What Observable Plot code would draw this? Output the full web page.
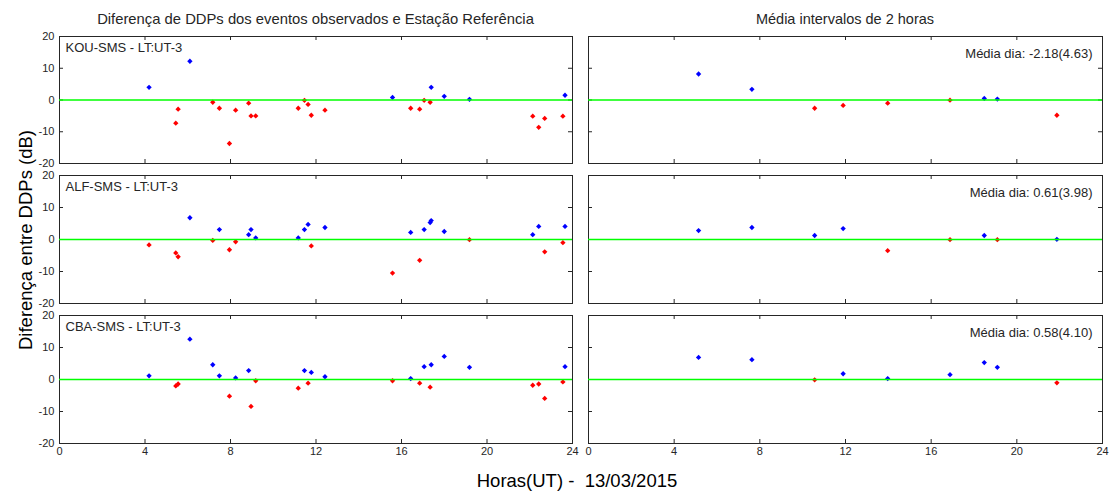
<!DOCTYPE html>
<html><head><meta charset="utf-8">
<script src="https://cdn.jsdelivr.net/npm/d3@7"></script>
<script src="https://cdn.jsdelivr.net/npm/@observablehq/plot@0.6"></script>
<style>
body{margin:0;background:#fff;}
#chart{position:relative;width:1109px;height:492px;background:#fff;font-family:"Liberation Sans",Arial,sans-serif;color:#262626;overflow:hidden;}
.t{position:absolute;white-space:pre;transform:translate(-50%,-50%);}
.p{position:absolute;}
</style></head><body><div id="chart"></div>
<script>
// ---- data ----
const xTicks = [0, 4, 8, 12, 16, 20, 24];
const yTicks = [-20, -10, 0, 10, 20];
const stationLabels = ["KOU-SMS - LT:UT-3", "ALF-SMS - LT:UT-3", "CBA-SMS - LT:UT-3"];
const dayMeanLabels = ["Média dia: -2.18(4.63)", "Média dia: 0.61(3.98)", "Média dia: 0.58(4.10)"];
const eventHours = [4.19, 5.44, 5.55, 6.10, 7.17, 7.48, 7.95, 8.24, 8.85, 8.96, 9.18, 11.17, 11.46, 11.63, 11.78, 12.42, 15.58, 16.43, 16.85, 17.06, 17.34, 17.39, 18.00, 19.18, 22.14, 22.42, 22.70, 23.55, 23.65];
const kouEvents = [4.0, -7.3, -2.9, 12.2, -0.7, -2.6, -13.7, -3.2, -1.0, -5.0, -5.0, -2.6, -0.1, -1.4, -4.8, -3.2, 0.8, -2.6, -2.9, -0.1, -0.7, 4.0, 1.15, 0.2, -5.1, -8.6, -5.8, -5.1, 1.5];
const alfEvents = [-1.7, -4.2, -5.4, 6.8, -0.3, 3.1, -3.2, -0.7, 1.5, 3.1, 0.5, 0.5, 3.1, 4.7, -2.0, 3.75, -10.5, 2.2, -6.5, 3.1, 5.3, 5.9, 2.5, -0.05, 1.5, 4.1, -3.85, -1.0, 4.1];
const cbaEvents = [1.15, -2.0, -1.4, 12.6, 4.6, 1.15, -5.2, 0.5, 2.8, -8.4, -0.4, -2.7, 2.8, -1.15, 2.2, 0.85, -0.4, 0.3, -1.15, 4.0, -2.4, 4.6, 7.2, 3.8, -1.8, -1.4, -5.9, -0.75, 4.0];
const meanHours = [5.14, 7.63, 10.56, 11.89, 13.97, 16.88, 18.48, 19.09, 21.87];
const kouMeans = [8.2, 3.35, -2.6, -1.7, -1.0, -0.05, 0.5, 0.3, -4.8];
const alfMeans = [2.8, 3.75, 1.25, 3.4, -3.5, -0.05, 1.25, -0.05, 0.05];
const cbaMeans = [6.9, 6.2, -0.1, 1.8, 0.3, 1.5, 5.3, 3.8, -1.05];
const titles = ["Diferença de DDPs dos eventos observados e Estação Referência", "Média intervalos de 2 horas"];
const yLabel = "Diferença entre DDPs (dB)";
const xLabel = "Horas(UT) -  13/03/2015";

// ---- layout ----
const root = document.getElementById("chart");
const cols = [{x0: 59, w: 513}, {x0: 588, w: 514}];
const rows = [{y0: 36, h: 127}, {y0: 175, h: 128}, {y0: 315, h: 128}];
const ink = "#262626";

function panel(ci, ri, hours, vals, cornerText) {
  const c = cols[ci], r = rows[ri];
  const showX = ri === 2, showY = ci === 0;
  const mL = showY ? c.x0 : 8, mR = 6, mT = 6, mB = showX ? 24 : 6;
  const data = hours.map((h, i) => ({h, v: vals[i]}));
  const marks = [
    Plot.frame({stroke: ink}),
    Plot.tickX(xTicks, {x: d => d, insetTop: r.h - 4, stroke: ink}),
    Plot.tickX(xTicks, {x: d => d, insetBottom: r.h - 4, stroke: ink}),
    Plot.tickY(yTicks, {y: d => d, insetRight: c.w - 4, stroke: ink}),
    Plot.tickY(yTicks, {y: d => d, insetLeft: c.w - 4, stroke: ink}),
    Plot.dot(data, {x: "h", y: "v", fill: d => d.v >= 0 ? "pos" : "neg", symbol: "diamond2", r: 2.4}),
    Plot.ruleY([0], {stroke: "#00ff00", strokeWidth: 1.3})
  ];
  if (ci === 0) {
    marks.push(Plot.text([cornerText], {text: d => d, frameAnchor: "top-left", textAnchor: "start", lineAnchor: "middle", dx: 6, dy: 11, fontSize: 13, fill: ink}));
  } else {
    marks.push(Plot.text([cornerText], {text: d => d, frameAnchor: "top-right", textAnchor: "end", lineAnchor: "middle", dx: -10, dy: 17, fontSize: 13, fill: ink}));
  }
  if (showX) marks.push(Plot.axisX(xTicks, {anchor: "bottom", tickSize: 0, tickPadding: 4, tickFormat: d => String(d), label: null, fill: ink, fontSize: 11}));
  if (showY) marks.push(Plot.axisY(yTicks, {anchor: "left", tickSize: 0, tickPadding: 5, tickFormat: d => String(d), label: null, fill: ink, fontSize: 11}));
  const svg = Plot.plot({
    width: mL + c.w + mR, height: mT + r.h + mB,
    marginLeft: mL, marginRight: mR, marginTop: mT, marginBottom: mB,
    style: {background: "transparent", overflow: "visible", fontFamily: '"Liberation Sans", Arial, sans-serif', fontSize: "11px", color: ink},
    x: {domain: [0, 24], ...(showX ? {} : {axis: null})},
    y: {domain: [-20, 20], ...(showY ? {} : {axis: null})},
    color: {domain: ["pos", "neg"], range: ["#0000ff", "#ff0000"]},
    marks
  });
  const wrap = document.createElement("div");
  wrap.className = "p";
  wrap.style.left = (c.x0 - mL) + "px";
  wrap.style.top = (r.y0 - mT) + "px";
  wrap.appendChild(svg);
  root.appendChild(wrap);
}

const eventSets = [kouEvents, alfEvents, cbaEvents];
const meanSets = [kouMeans, alfMeans, cbaMeans];
for (let i = 0; i < 3; i++) {
  panel(0, i, eventHours, eventSets[i], stationLabels[i]);
  panel(1, i, meanHours, meanSets[i], dayMeanLabels[i]);
}

function addText(txt, x, y, css) {
  const d = document.createElement("div");
  d.className = "t";
  d.textContent = txt;
  d.style.left = x + "px";
  d.style.top = y + "px";
  Object.assign(d.style, css || {});
  root.appendChild(d);
  return d;
}
addText(titles[0], (cols[0].x0 + cols[0].x0 + cols[0].w) / 2, 19, {fontSize: "14.8px"});
addText(titles[1], (cols[1].x0 + cols[1].x0 + cols[1].w) / 2, 19, {fontSize: "14.5px"});
addText(yLabel, 26, 240, {fontSize: "18.5px", color: "#000", transform: "translate(-50%,-50%) rotate(-90deg)"});
addText(xLabel, 577, 481, {fontSize: "18.5px", color: "#000"});
</script>
</body></html>
